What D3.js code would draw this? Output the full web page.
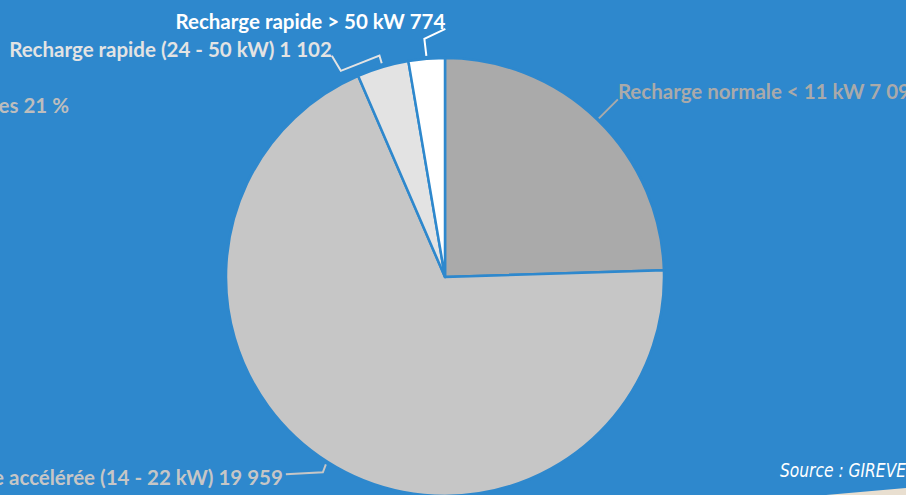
<!DOCTYPE html>
<html>
<head>
<meta charset="utf-8">
<script src="https://cdn.jsdelivr.net/npm/d3@7"></script>
<style>
  html, body { margin: 0; padding: 0; background: #2e88cd; overflow: hidden; }
  svg { display: block; }
  .lbl { font-family: Lato, "Open Sans", sans-serif; font-weight: bold; font-size: 20.5px; }
  .src { font-family: "Liberation Sans Narrow", "DejaVu Sans Condensed", sans-serif; font-style: italic; font-size: 20px; }
</style>
</head>
<body>
<div id="container"></div>
<script>
const categories = [
  "Recharge normale < 11 kW",
  "Recharge accélérée (14 - 22 kW)",
  "Recharge rapide (24 - 50 kW)",
  "Recharge rapide > 50 kW"
];
const values = [7092, 19959, 1102, 774];
const valueLabels = ["7 092", "19 959", "1 102", "774"];
const colors = ["#aaaaaa", "#c6c6c6", "#e3e3e3", "#ffffff"];

const w = 906;
const h = 495;
const cx = 445;
const cy = 277;
const radius = 219;

const svg = d3.select("#container")
  .append("svg")
  .attr("width", w)
  .attr("height", h);

svg.append("rect")
  .attr("width", w)
  .attr("height", h)
  .attr("fill", "#2e88cd");

const data = categories.map((c, i) => ({ name: c, value: values[i], label: valueLabels[i], color: colors[i] }));

const pie = d3.pie().sort(null).value(d => d.value);
const arc = d3.arc().innerRadius(0).outerRadius(radius);
const arcs = pie(data);

const g = svg.append("g")
  .attr("transform", "translate(" + cx + "," + cy + ")");

g.selectAll("path")
  .data(arcs)
  .enter()
  .append("path")
  .attr("d", arc)
  .attr("fill", d => d.data.color)
  .attr("stroke", "#2e88cd")
  .attr("stroke-width", 2.5)
  .attr("stroke-linejoin", "round");

// point at angle a (radians, clockwise from top) and distance r from the centre
function polar(a, r) {
  return [cx + Math.sin(a) * r, cy - Math.cos(a) * r];
}
const mid = d => (d.startAngle + d.endAngle) / 2;
const off = (p, dx, dy) => [p[0] + dx, p[1] + dy];

// normale
const p0 = polar(mid(arcs[0]), radius + 2);
const line0 = [p0, off(p0, 19, -19)];
// accélérée
const p1 = polar(mid(arcs[1]), radius + 3);
const line1 = [p1, off(p1, -3, 8), off(p1, -40, 10)];
// 24 - 50 : bracket over the slice
const b1 = polar(mid(arcs[2]), radius + 12);
const b0 = polar(mid(arcs[2]) - 0.18, radius + 12);
const line2 = [off(b0, -9, -15), b0, b1, polar(mid(arcs[2]), radius + 4)];
// > 50
const p3 = polar(mid(arcs[3]), radius + 3);
const line3 = [p3, off(p3, -2, -17), off(p3, 19, -27)];

const lines = [line0, line1, line2, line3];

svg.selectAll("path.leader")
  .data(lines)
  .enter()
  .append("path")
  .attr("class", "leader")
  .attr("d", d => d3.line()(d))
  .attr("fill", "none")
  .attr("stroke", (d, i) => colors[i])
  .attr("stroke-width", 2);

// text labels at the free end of each leader
const labelPos = [
  { p: line0[1], anchor: "start", dx: 0, dy: 0 },
  { p: line1[2], anchor: "end", dx: -3, dy: 11 },
  { p: line2[0], anchor: "end", dx: 0, dy: 1 },
  { p: line3[2], anchor: "end", dx: 0, dy: 0 }
];

svg.selectAll("text.lbl")
  .data(arcs)
  .enter()
  .append("text")
  .attr("class", "lbl")
  .attr("x", (d, i) => labelPos[i].p[0] + labelPos[i].dx)
  .attr("y", (d, i) => labelPos[i].p[1] + labelPos[i].dy)
  .attr("text-anchor", (d, i) => labelPos[i].anchor)
  .attr("fill", d => d.data.color)
  .text(d => d.data.name + " " + d.data.label);

// partly hidden label on the left edge
svg.append("text")
  .attr("class", "lbl")
  .attr("x", 69)
  .attr("y", 113)
  .attr("text-anchor", "end")
  .attr("fill", "#bdbdbd")
  .text("Autres bornes 21 %");

svg.append("text")
  .attr("class", "src")
  .attr("x", 906)
  .attr("y", 477)
  .attr("text-anchor", "end")
  .attr("textLength", 126)
  .attr("lengthAdjust", "spacingAndGlyphs")
  .attr("fill", "#ffffff")
  .text("Source : GIREVE");

svg.append("path")
  .attr("d", "M826,495 L906,488 L906,495 Z")
  .attr("fill", "#e9dfd0");
</script>
</body>
</html>
